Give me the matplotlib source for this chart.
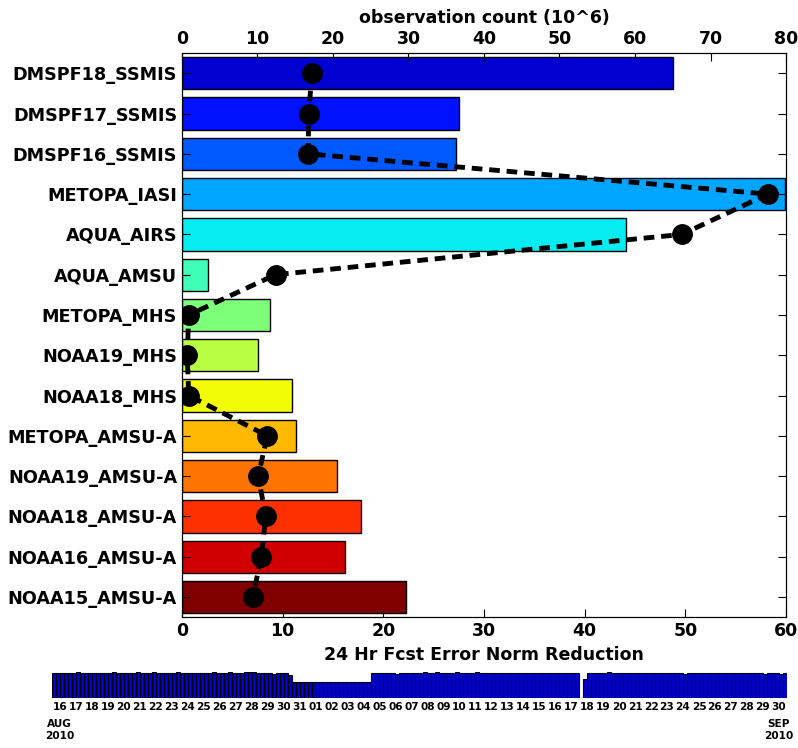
import matplotlib
matplotlib.use("Agg")
from matplotlib import pyplot as plt
from matplotlib import cm

plt.rcParams["font.weight"] = "bold"
plt.rcParams["axes.labelweight"] = "bold"

sensors = ["DMSPF18_SSMIS", "DMSPF17_SSMIS", "DMSPF16_SSMIS", "METOPA_IASI",
           "AQUA_AIRS", "AQUA_AMSU", "METOPA_MHS", "NOAA19_MHS", "NOAA18_MHS",
           "METOPA_AMSU-A", "NOAA19_AMSU-A", "NOAA18_AMSU-A", "NOAA16_AMSU-A",
           "NOAA15_AMSU-A"]
err_reduction = [48.8, 27.5, 27.2, 59.9, 44.1, 2.6, 8.7, 7.6, 10.9, 11.3,
                 15.4, 17.8, 16.2, 22.3]
obs_count = [17.2, 16.8, 16.7, 77.6, 66.2, 12.4, 0.9, 0.7, 0.9, 11.3,
             10.1, 11.1, 10.5, 9.4]

# obs per 6-hourly cycle, 16 Aug - 30 Sep 2010
cycle_counts = [
    2.40, 2.40, 2.35, 2.40,  2.40, 2.40, 2.45, 2.38,  2.40, 2.42, 2.36, 2.40,
    2.42, 2.38, 2.36, 2.44,  2.40, 2.40, 2.40, 2.42,  2.38, 2.45, 2.40, 2.36,
    2.42, 2.46, 2.40, 2.38,  2.42, 2.36, 2.40, 2.44,  2.40, 2.38, 2.36, 2.40,
    2.40, 2.40, 2.40, 2.42,  2.44, 2.40, 2.40, 2.42,  2.44, 2.40, 2.40, 2.40,
    2.46, 2.46, 2.46, 2.42,  2.42, 2.38, 2.40, 2.32,  2.36, 2.40, 2.34, 2.20,
    1.50, 1.52, 1.52, 1.50,  1.52, 1.50, 1.52, 1.50,  1.50, 1.52, 1.48, 1.52,
    1.56, 1.50, 1.50, 1.52,  1.50, 1.52, 1.52, 1.52,  2.34, 2.42, 2.42, 2.42,
    2.42, 2.42, 2.24, 2.40,  2.38, 2.42, 2.40, 2.40,  2.38, 2.44, 2.36, 2.40,
    2.46, 2.40, 2.38, 2.40,  2.40, 2.44, 2.40, 2.38,  2.38, 2.40, 2.44, 2.38,
    2.40, 2.38, 2.40, 2.40,  2.40, 2.38, 2.40, 2.40,  2.40, 2.40, 2.38, 2.40,
    2.40, 2.40, 2.38, 2.40,  2.40, 2.38, 2.38, 2.36,  2.40, 2.40, 2.38, 2.38,
    0.00, 1.85, 2.38, 2.40,  2.40, 2.42, 2.38, 2.44,  2.40, 2.40, 2.38, 2.40,
    2.38, 2.40, 2.40, 2.36,  2.38, 2.40, 2.40, 2.40,  2.36, 2.40, 2.40, 2.40,
    2.40, 2.40, 2.28, 2.40,  2.40, 2.40, 2.40, 2.36,  2.40, 2.42, 2.40, 2.40,
    2.40, 2.40, 2.40, 2.40,  2.42, 2.40, 2.40, 2.38,  2.38, 2.40, 2.28, 2.40,
    2.40, 2.40, 2.32, 2.40,
]
day_labels = ["16", "17", "18", "19", "20", "21", "22", "23", "24",
              "25", "26", "27", "28", "29", "30", "31", "01", "02", "03", "04",
              "05", "06", "07", "08", "09", "10", "11", "12", "13", "14", "15",
              "16", "17", "18", "19", "20", "21", "22", "23", "24", "25", "26",
              "27", "28", "29", "30"]
start_month = "AUG\n2010"
end_month = "SEP\n2010"

fig = plt.figure(figsize=(7.98, 7.48), dpi=100)
ax = fig.add_axes([0.228, 0.175, 0.757, 0.754])

n = len(sensors)
rows = list(range(n))
colors = [cm.jet((i + 1) / n) for i in rows]
ax.barh(rows, err_reduction, height=0.8, color=colors, edgecolor="black",
        linewidth=1)
ax.set_ylim(n - 0.5, -0.5)
ax.set_xlim(0, 60)
ax.set_yticks(rows)
ax.set_yticklabels(sensors, fontsize=12.7)
ax.tick_params(axis="x", labelsize=12.5, direction="in", length=6)
ax.tick_params(axis="y", direction="in", length=6, right=True)
ax.set_xlabel("24 Hr Fcst Error Norm Reduction", fontsize=12.5, labelpad=4)

ax2 = ax.twiny()
ax2.plot(obs_count, rows, color="black", linestyle="--", dashes=(2.2, 1.4),
         linewidth=3.5, marker="o", markersize=14)
ax2.set_xlim(0, 80)
ax2.set_ylim(n - 0.5, -0.5)
ax2.tick_params(axis="x", labelsize=12.5, direction="in", length=6)
ax2.set_xlabel("observation count (10^6)", fontsize=12.5, labelpad=5)

# per-cycle data counts strip
axs = fig.add_axes([0.065, 0.0668, 0.921, 0.0348])
axs.bar(range(len(cycle_counts)), cycle_counts, width=1, align="edge",
        color="#0000d0", edgecolor="black", linewidth=0.8)
axs.set_xlim(0, len(cycle_counts))
axs.set_ylim(0, 2.47)
day_pos = [4 * d + 2 for d in range(len(day_labels))]
axs.set_xticks(day_pos)
axs.set_xticklabels(day_labels, fontsize=7.6)
axs.tick_params(axis="x", length=0, pad=3)
axs.set_yticks([])
for s in axs.spines.values():
    s.set_visible(False)
for x, txt in [(day_pos[0], start_month), (day_pos[-1], end_month)]:
    axs.annotate(txt, (x, 0), xytext=(0, -15), textcoords="offset points",
                 ha="center", va="top", fontsize=7.6, linespacing=1.3)

plt.savefig("out.png")
